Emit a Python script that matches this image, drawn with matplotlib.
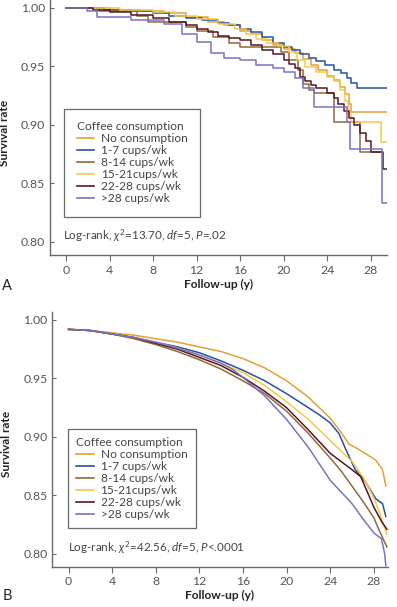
import matplotlib
matplotlib.use("Agg")
import matplotlib.pyplot as plt
from matplotlib.lines import Line2D

plt.rcParams['font.family'] = ['Lato', 'DejaVu Sans']
plt.rcParams['mathtext.fontset'] = 'custom'
plt.rcParams['mathtext.rm'] = 'Lato'
plt.rcParams['mathtext.it'] = 'Lato:italic'

groups = ["No consumption", "1-7 cups/wk", "8-14 cups/wk", "15-21cups/wk", "22-28 cups/wk", ">28 cups/wk"]
colors = ["#E5A035", "#2553A3", "#8E6A3C", "#F3C94A", "#5A1620", "#7B72C2"]
legend_title = "Coffee consumption"
x_ticks = [0, 4, 8, 12, 16, 20, 24, 28]
y_ticks = [0.80, 0.85, 0.90, 0.95, 1.00]
stats_a = r"Log-rank, $\chi^2$=13.70, $df$=5, $P$=.02"
stats_b = r"Log-rank, $\chi^2$=42.56, $df$=5, $P$<.0001"

# Panel A (step curves)
a_none_t = [0, 4, 7, 9, 11, 13, 14.5, 16, 17, 18, 19, 20, 21, 21.8, 22.5, 23.2, 24, 24.6, 25.2, 25.6, 26.0, 26.2, 29.5]
a_none_s = [1.0, 0.998, 0.997, 0.995, 0.992, 0.988, 0.985, 0.980, 0.977, 0.972, 0.968, 0.965, 0.961, 0.956, 0.951, 0.947, 0.942, 0.938, 0.932, 0.926, 0.918, 0.911, 0.911]
a_1_7_t = [0, 3.5, 6, 8, 9.5, 11, 12.5, 14, 15, 16, 17, 18, 19, 20, 20.8, 21.5, 22.3, 23, 23.8, 24.6, 25.3, 25.8, 26.2, 26.7, 29.5]
a_1_7_s = [1.0, 0.998, 0.997, 0.995, 0.993, 0.991, 0.989, 0.987, 0.985, 0.982, 0.979, 0.975, 0.970, 0.966, 0.964, 0.960, 0.957, 0.954, 0.951, 0.947, 0.944, 0.940, 0.936, 0.931, 0.931]
a_8_14_t = [0, 3, 6.5, 7.5, 11, 12, 13.5, 15, 16, 19.8, 20.5, 21.3, 21.8, 22.3, 22.8, 24.6, 27.0, 29.0]
a_8_14_s = [1.0, 0.997, 0.993, 0.988, 0.983, 0.980, 0.975, 0.970, 0.966, 0.962, 0.955, 0.947, 0.935, 0.930, 0.927, 0.902, 0.877, 0.877]
a_15_21_t = [0, 5, 8, 10, 12, 14, 15.5, 16.5, 17.5, 18.5, 19.5, 20.5, 21.2, 22, 23, 24, 24.6, 25.2, 25.6, 25.9, 26.2, 28.9, 29.5]
a_15_21_s = [1.0, 0.998, 0.996, 0.993, 0.990, 0.986, 0.982, 0.977, 0.973, 0.970, 0.967, 0.962, 0.955, 0.949, 0.945, 0.941, 0.937, 0.930, 0.920, 0.910, 0.902, 0.885, 0.885]
a_22_28_t = [0, 2.5, 4, 6, 8, 9.5, 11, 12, 13, 14, 15, 16, 17, 18, 19, 20, 20.5, 21, 21.5, 22, 22.5, 23, 24, 24.6, 25, 25.5, 26, 26.5, 27, 27.6, 28, 29.1, 29.5]
a_22_28_s = [1.0, 0.998, 0.996, 0.994, 0.991, 0.988, 0.985, 0.982, 0.979, 0.976, 0.974, 0.972, 0.968, 0.964, 0.960, 0.955, 0.952, 0.948, 0.941, 0.937, 0.934, 0.931, 0.927, 0.923, 0.918, 0.912, 0.906, 0.900, 0.893, 0.886, 0.877, 0.862, 0.862]
a_28p_t = [0, 1.9, 2.8, 6, 9, 10.7, 12, 13.3, 14.5, 16, 17.5, 19, 20, 21, 21.8, 22.8, 25.8, 26.1, 29.0, 29.5]
a_28p_s = [1.0, 0.997, 0.992, 0.989, 0.986, 0.977, 0.971, 0.961, 0.957, 0.955, 0.951, 0.948, 0.945, 0.940, 0.931, 0.9155, 0.902, 0.879, 0.833, 0.833]

# Panel B
b_none_t = [0, 2, 4, 6, 8, 10, 12, 14, 16, 18, 20, 21, 22, 23, 24, 25, 25.7, 26.5, 27.2, 28.2, 28.8, 29.1]
b_none_s = [0.992, 0.991, 0.989, 0.987, 0.984, 0.981, 0.977, 0.973, 0.967, 0.959, 0.948, 0.941, 0.934, 0.925, 0.916, 0.904, 0.894, 0.890, 0.886, 0.880, 0.872, 0.858]
b_1_7_t = [0, 2, 4, 6, 8, 10, 12, 14, 16, 18, 20, 22, 23, 24, 24.8, 25.4, 26.3, 27.2, 28.2, 28.8, 29.1]
b_1_7_s = [0.992, 0.991, 0.988, 0.985, 0.981, 0.977, 0.972, 0.965, 0.957, 0.948, 0.937, 0.925, 0.919, 0.912, 0.903, 0.890, 0.872, 0.862, 0.847, 0.843, 0.832]
b_8_14_t = [0, 2, 4, 6, 8, 10, 12, 14, 16, 18, 20, 22, 24, 25, 26, 27, 28, 28.5, 29.2]
b_8_14_s = [0.992, 0.991, 0.988, 0.984, 0.979, 0.973, 0.966, 0.958, 0.948, 0.937, 0.922, 0.903, 0.882, 0.871, 0.858, 0.845, 0.831, 0.820, 0.806]
b_15_21_t = [0, 2, 4, 6, 8, 10, 12, 14, 16, 18, 20, 22, 24, 25, 26, 27, 28, 28.5, 29, 29.2]
b_15_21_s = [0.992, 0.991, 0.988, 0.985, 0.981, 0.976, 0.970, 0.963, 0.955, 0.944, 0.930, 0.915, 0.897, 0.888, 0.879, 0.866, 0.848, 0.836, 0.822, 0.817]
b_22_28_t = [0, 2, 4, 6, 8, 10, 12, 14, 16, 18, 20, 22, 24, 25, 26, 26.8, 27.5, 28, 28.7, 29.2]
b_22_28_s = [0.992, 0.991, 0.988, 0.985, 0.980, 0.975, 0.968, 0.961, 0.951, 0.939, 0.925, 0.906, 0.886, 0.879, 0.872, 0.866, 0.851, 0.840, 0.828, 0.821]
b_28p_t = [0, 2, 4, 6, 8, 10, 12, 14, 15, 16, 18, 20, 22, 24, 25, 26, 27, 28, 28.7, 29.0, 29.1]
b_28p_s = [0.992, 0.991, 0.988, 0.985, 0.981, 0.976, 0.970, 0.963, 0.958, 0.951, 0.935, 0.915, 0.891, 0.863, 0.853, 0.843, 0.830, 0.818, 0.813, 0.800, 0.790]

panel_a = [(a_none_t, a_none_s), (a_1_7_t, a_1_7_s), (a_8_14_t, a_8_14_s),
           (a_15_21_t, a_15_21_s), (a_22_28_t, a_22_28_s), (a_28p_t, a_28p_s)]
panel_b = [(b_none_t, b_none_s), (b_1_7_t, b_1_7_s), (b_8_14_t, b_8_14_s),
           (b_15_21_t, b_15_21_s), (b_22_28_t, b_22_28_s), (b_28p_t, b_28p_s)]

fig = plt.figure(figsize=(3.97, 6.07), dpi=100)
axA = fig.add_axes([0.1247, 0.5799, 0.8494, 0.4201])
axB = fig.add_axes([0.1302, 0.0664, 0.8471, 0.4201])

spine_c = "#6a6a6a"
text_c = "#555555"

def style(ax, xlim, ylim):
    ax.set_xlim(*xlim)
    ax.set_ylim(*ylim)
    for s in ["top", "right"]:
        ax.spines[s].set_visible(False)
    for s in ["left", "bottom"]:
        ax.spines[s].set_color(spine_c)
        ax.spines[s].set_linewidth(1.0)
    ax.set_xticks(x_ticks)
    ax.set_yticks(y_ticks)
    ax.set_yticklabels([f"{v:.2f}" for v in y_ticks])
    ax.tick_params(axis='x', direction='out', length=4, width=0.8, color=spine_c,
                   labelsize=8.8, labelcolor=text_c, pad=3)
    ax.tick_params(axis='y', direction='in', length=3, width=0.8, color=spine_c,
                   labelsize=8.8, labelcolor=text_c, pad=3)
    ax.set_ylabel("Survival rate", fontsize=8.6, fontweight='bold', color="#222222")
    ax.set_xlabel("Follow-up (y)", fontsize=8.6, fontweight='bold', color="#222222")
    ax.yaxis.set_label_coords(-0.117, 0.48)
    ax.xaxis.set_label_coords(0.50, -0.092)

def add_legend(ax, anchor, spacing, bpad):
    handles = [Line2D([], [], color=c, lw=1.2) for c in colors]
    leg = ax.legend(handles, groups, title=legend_title, loc='upper left',
                    bbox_to_anchor=anchor, fontsize=8.6, title_fontsize=8.6,
                    frameon=True, fancybox=False, handlelength=1.5,
                    handletextpad=0.55, labelspacing=spacing, borderpad=bpad,
                    alignment='left', borderaxespad=0)
    fr = leg.get_frame()
    fr.set_edgecolor("#444444")
    fr.set_linewidth(0.9)
    for t in leg.get_texts():
        t.set_color("#444444")
    leg.get_title().set_color("#444444")

style(axA, (-1.52, 29.47), (0.7889, 1.0064))
for (t, s), c in zip(panel_a, colors):
    axA.plot(t, s, drawstyle='steps-post', color=c, lw=1.1)
add_legend(axA, (0.043, 0.573), 0.08, 1.05)
axA.text(-0.3, 0.805, stats_a, fontsize=8.4, color="#444444", va='center', ha='left')

style(axB, (-1.55, 29.3), (0.7891, 1.0071))
for (t, s), c in zip(panel_b, colors):
    axB.plot(t, s, color=c, lw=1.1)
add_legend(axB, (0.0476, 0.540), 0.08, 0.7)
axB.text(-0.09, 0.805, stats_b, fontsize=8.4, color="#444444", va='center', ha='left')

fig.text(7 / 397, 1 - 286 / 607, "A", fontsize=10.5, ha='center', va='center', color="#222222")
fig.text(7 / 397, 1 - 596 / 607, "B", fontsize=10.5, ha='center', va='center', color="#222222")

fig.savefig("out.png", dpi=100)
